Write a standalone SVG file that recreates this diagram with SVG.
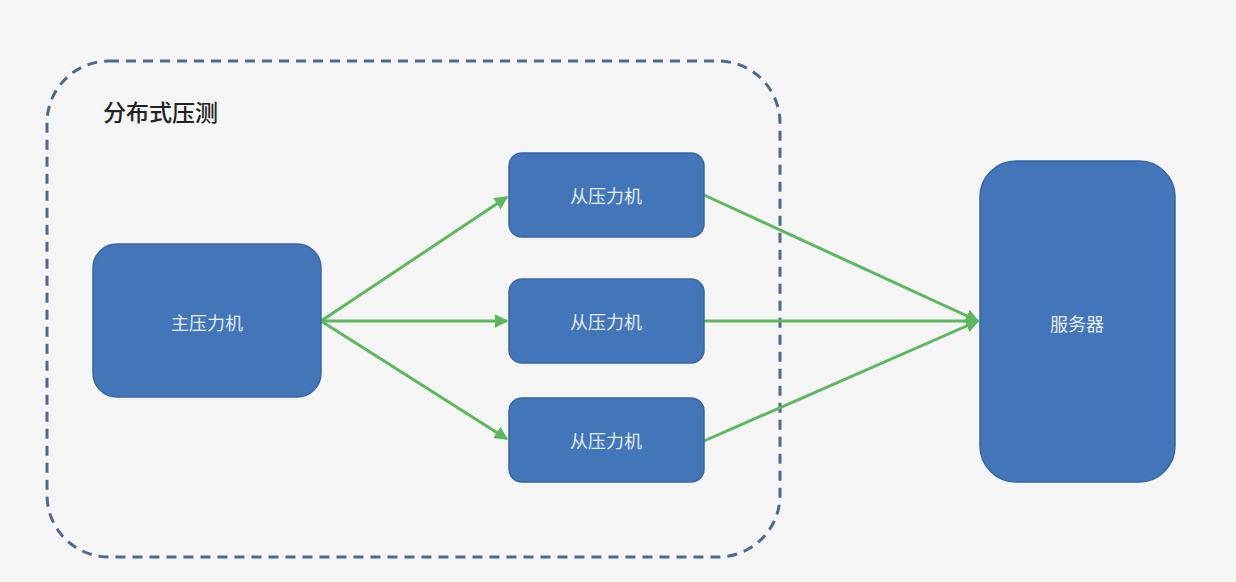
<svg xmlns="http://www.w3.org/2000/svg" width="1236" height="582" viewBox="0 0 1236 582">
<defs>
<style>
.box{fill:#4276b9;stroke:#3766a3;stroke-width:1.5}
.lbl{font-family:"Noto Sans CJK SC","Liberation Sans",sans-serif;font-size:18px;fill:#e4ebf5;text-anchor:middle;dominant-baseline:central}
.edge{stroke:#5cb85c;stroke-width:3;fill:none}
</style>
<marker id="ah" viewBox="0 0 10 10" refX="9" refY="5" markerWidth="4.5" markerHeight="4.5" orient="auto" markerUnits="strokeWidth">
<path d="M0,0 L10,5 L0,10 z" fill="#5cb85c"/>
</marker>
</defs>
<rect width="1236" height="582" fill="#f5f5f5"/>
<g id="group">
<rect x="47" y="61" width="733" height="496" rx="62" fill="none" stroke="#4a6b8f" stroke-width="3" stroke-dasharray="10 7"/>
<text x="103" y="111" font-family="Noto Sans CJK SC,Liberation Sans,sans-serif" font-size="23" font-weight="500" fill="#222" dominant-baseline="central">分布式压测</text>
</g>
<g id="connectors">
<line class="edge" x1="321" y1="321" x2="507" y2="197" marker-end="url(#ah)"/>
<line class="edge" x1="321" y1="321" x2="507" y2="321" marker-end="url(#ah)"/>
<line class="edge" x1="321" y1="321" x2="507" y2="439" marker-end="url(#ah)"/>
<line class="edge" x1="704" y1="195" x2="978" y2="321" marker-end="url(#ah)"/>
<line class="edge" x1="704" y1="321" x2="978" y2="321" marker-end="url(#ah)"/>
<line class="edge" x1="704" y1="441" x2="978" y2="321" marker-end="url(#ah)"/>
</g>
<g id="master">
<rect class="box" x="93" y="244" width="228" height="153" rx="24"/>
<text class="lbl" x="207" y="322">主压力机</text>
</g>
<g id="slave1">
<rect class="box" x="509" y="153" width="195" height="84" rx="13"/>
<text class="lbl" x="606" y="195">从压力机</text>
</g>
<g id="slave2">
<rect class="box" x="509" y="279" width="195" height="84" rx="13"/>
<text class="lbl" x="606" y="321">从压力机</text>
</g>
<g id="slave3">
<rect class="box" x="509" y="398" width="195" height="84" rx="13"/>
<text class="lbl" x="606" y="440">从压力机</text>
</g>
<g id="server">
<rect class="box" x="980" y="161" width="195" height="321" rx="36"/>
<text class="lbl" x="1077" y="323">服务器</text>
</g>
</svg>
